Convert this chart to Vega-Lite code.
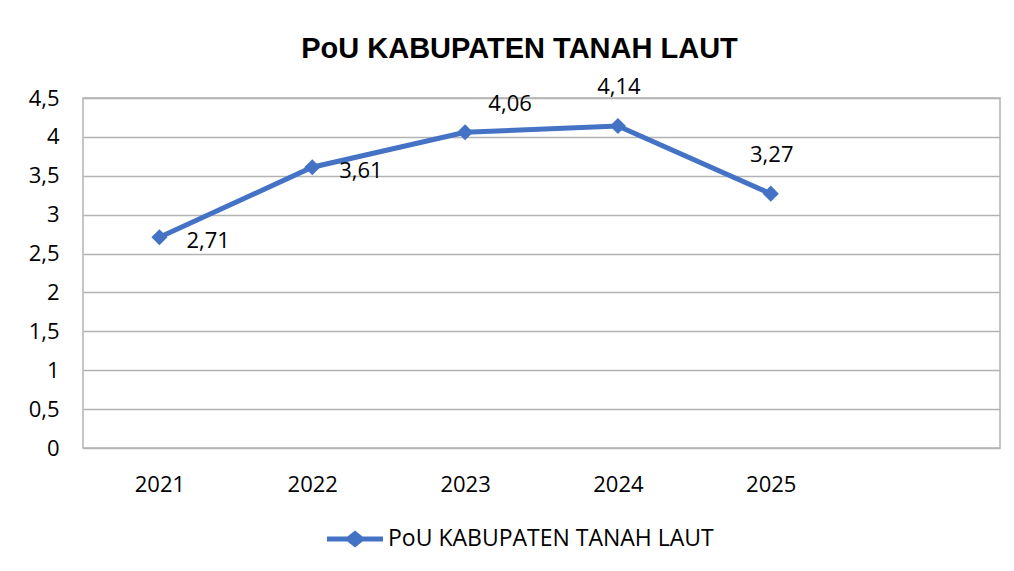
{
  "$schema": "https://vega.github.io/schema/vega-lite/v6.json",
  "width": 917,
  "height": 350,
  "autosize": "none",
  "padding": {"left": 83, "top": 98, "right": 14, "bottom": 123},
  "background": "white",
  "title": {
    "text": "PoU KABUPATEN TANAH LAUT",
    "font": "Liberation Sans",
    "fontSize": 29,
    "fontWeight": "bold",
    "color": "#000000",
    "anchor": "middle",
    "dx": -22,
    "dy": 37,
    "baseline": "alphabetic",
    "offset": 26
  },
  "data": {
    "values": [
      {"tahun": "2021", "pou": 2.71, "series": "PoU KABUPATEN TANAH LAUT"},
      {"tahun": "2022", "pou": 3.61, "series": "PoU KABUPATEN TANAH LAUT"},
      {"tahun": "2023", "pou": 4.06, "series": "PoU KABUPATEN TANAH LAUT"},
      {"tahun": "2024", "pou": 4.14, "series": "PoU KABUPATEN TANAH LAUT"},
      {"tahun": "2025", "pou": 3.27, "series": "PoU KABUPATEN TANAH LAUT"}
    ]
  },
  "encoding": {
    "x": {
      "field": "tahun",
      "type": "ordinal",
      "scale": {"type": "point", "padding": 0.5, "domain": ["2021", "2022", "2023", "2024", "2025", " "]},
      "axis": {
        "title": null,
        "labelAngle": 0,
        "ticks": false,
        "domain": false,
        "grid": false,
        "labelPadding": 26,
        "labelFontSize": 22,
        "labelFont": "Open Sans",
        "labelColor": "#000000"
      }
    },
    "y": {
      "field": "pou",
      "type": "quantitative",
      "scale": {"domain": [0, 4.5], "nice": false},
      "axis": {
        "title": null,
        "values": [0, 0.5, 1, 1.5, 2, 2.5, 3, 3.5, 4, 4.5],
        "format": "~g",
        "ticks": false,
        "domain": false,
        "grid": true,
        "gridColor": "#b3b3b3",
        "gridWidth": 1.5,
        "labelPadding": 24,
        "labelFontSize": 22,
        "labelFont": "Open Sans",
        "labelColor": "#000000"
      }
    }
  },
  "layer": [
    {
      "mark": {"type": "line", "strokeWidth": 5, "point": {"shape": "diamond", "size": 260, "filled": true, "opacity": 1}},
      "encoding": {
        "color": {
          "field": "series",
          "type": "nominal",
          "scale": {"range": ["#4472C4"]},
          "legend": {
            "title": null,
            "orient": "none",
            "legendX": 244,
            "legendY": 413,
            "symbolType": "M-1,-0.09L-0.27,-0.09L0,-0.3L0.27,-0.09L1,-0.09L1,0.09L0.27,0.09L0,0.3L-0.27,0.09L-1,0.09Z",
            "symbolSize": 3136,
            "symbolFillColor": "#4472C4",
            "symbolStrokeWidth": 0,
            "symbolOpacity": 1,
            "labelFontSize": 23,
            "labelFont": "Open Sans",
            "labelColor": "#000000",
            "labelOffset": 5,
            "labelLimit": 500
          }
        }
      }
    },
    {
      "transform": [{"filter": "datum.tahun == '2021' || datum.tahun == '2022'"}],
      "mark": {"type": "text", "align": "left", "baseline": "middle", "dx": 27, "dy": 4, "fontSize": 22, "font": "Open Sans", "color": "#000000"},
      "encoding": {"text": {"field": "pou", "type": "quantitative", "format": ".2f"}}
    },
    {
      "transform": [{"filter": "datum.tahun == '2023'"}],
      "mark": {"type": "text", "align": "center", "baseline": "middle", "dx": 45, "dy": -28, "fontSize": 22, "font": "Open Sans", "color": "#000000"},
      "encoding": {"text": {"field": "pou", "type": "quantitative", "format": ".2f"}}
    },
    {
      "transform": [{"filter": "datum.tahun == '2024' || datum.tahun == '2025'"}],
      "mark": {"type": "text", "align": "center", "baseline": "middle", "dx": 1, "dy": -39, "fontSize": 22, "font": "Open Sans", "color": "#000000"},
      "encoding": {"text": {"field": "pou", "type": "quantitative", "format": ".2f"}}
    }
  ],
  "config": {
    "view": {"stroke": "#b3b3b3", "strokeWidth": 1.5},
    "locale": {"number": {"decimal": ",", "thousands": ".", "grouping": [3], "currency": ["Rp", ""]}}
  }
}
